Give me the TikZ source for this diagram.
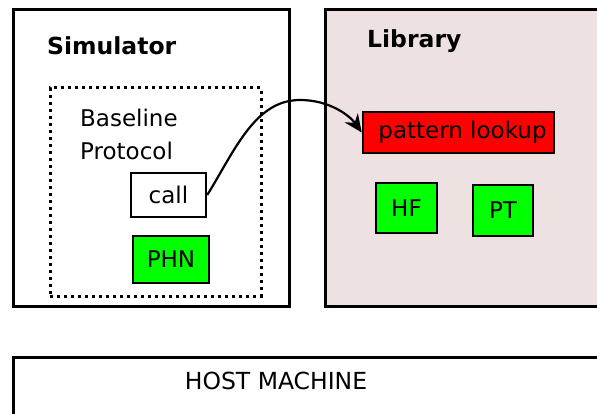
\documentclass[tikz,border=0pt]{standalone}
\usepackage{fontspec}
\setmainfont{DejaVu Sans}
\usetikzlibrary{arrows.meta}

\definecolor{libfill}{RGB}{238,225,225}
\definecolor{partgreen}{RGB}{0,255,0}
\definecolor{partred}{RGB}{255,0,0}

\tikzset{
  outerbox/.style={draw=black, line width=3pt, inner sep=0pt},
  partbox/.style={draw=black, line width=2.5pt, inner sep=0pt, font=\fontsize{23}{27}\selectfont},
  heading/.style={font=\fontsize{23.5}{27}\selectfont\bfseries, inner sep=0pt, anchor=west},
  plain/.style={font=\fontsize{23.5}{27}\selectfont, inner sep=0pt}
}

\begin{document}
\begin{tikzpicture}[x=1pt, y=-1pt]

\clip (0,0) rectangle (597,414);
\fill[white] (0,0) rectangle (597,414);

% Simulator
\node[outerbox, minimum width=276pt, minimum height=296pt] (sim) at (151,158) {};
\node[heading] (simtitle) at (47,46) {Simulator};
\node[draw=black, line width=3pt, dash pattern=on 3pt off 4pt, minimum width=211pt, minimum height=208pt] (proto) at (155.5,192) {};
\node[plain, anchor=west, align=left, font=\fontsize{23}{33}\selectfont] (prototitle) at (80,134.5) {Baseline\\Protocol};
\node[partbox, fill=white, minimum width=75pt, minimum height=44pt] (call) at (168.5,195) {call};
\node[partbox, fill=partgreen, minimum width=76pt, minimum height=47pt] (phn) at (171,259.5) {PHN};

% Library
\node[outerbox, fill=libfill, minimum width=300pt, minimum height=296pt] (lib) at (475,158) {};
\node[heading] (libtitle) at (367,41) {Library};
\node[partbox, fill=partred, minimum width=191pt, minimum height=41pt] (lookup) at (458.5,132.5) {\hspace{8pt}pattern lookup};
\node[partbox, fill=partgreen, minimum width=61pt, minimum height=50pt] (hf) at (406.5,208) {HF};
\node[partbox, fill=partgreen, minimum width=60pt, minimum height=51pt] (pt) at (503,210.5) {PT};

% Call into the library
\draw[line width=2.2pt, -{Stealth[length=18pt, width=16pt]}] (call.east) .. controls (235,150) and (255,100) .. (300,100) .. controls (330,100) and (350,116) .. (lookup.west);

% Host
\node[outerbox, minimum width=620pt, minimum height=100pt] (host) at (323,407) {};
\node[plain] (hosttitle) at (276,381) {HOST MACHINE};

\end{tikzpicture}
\end{document}
